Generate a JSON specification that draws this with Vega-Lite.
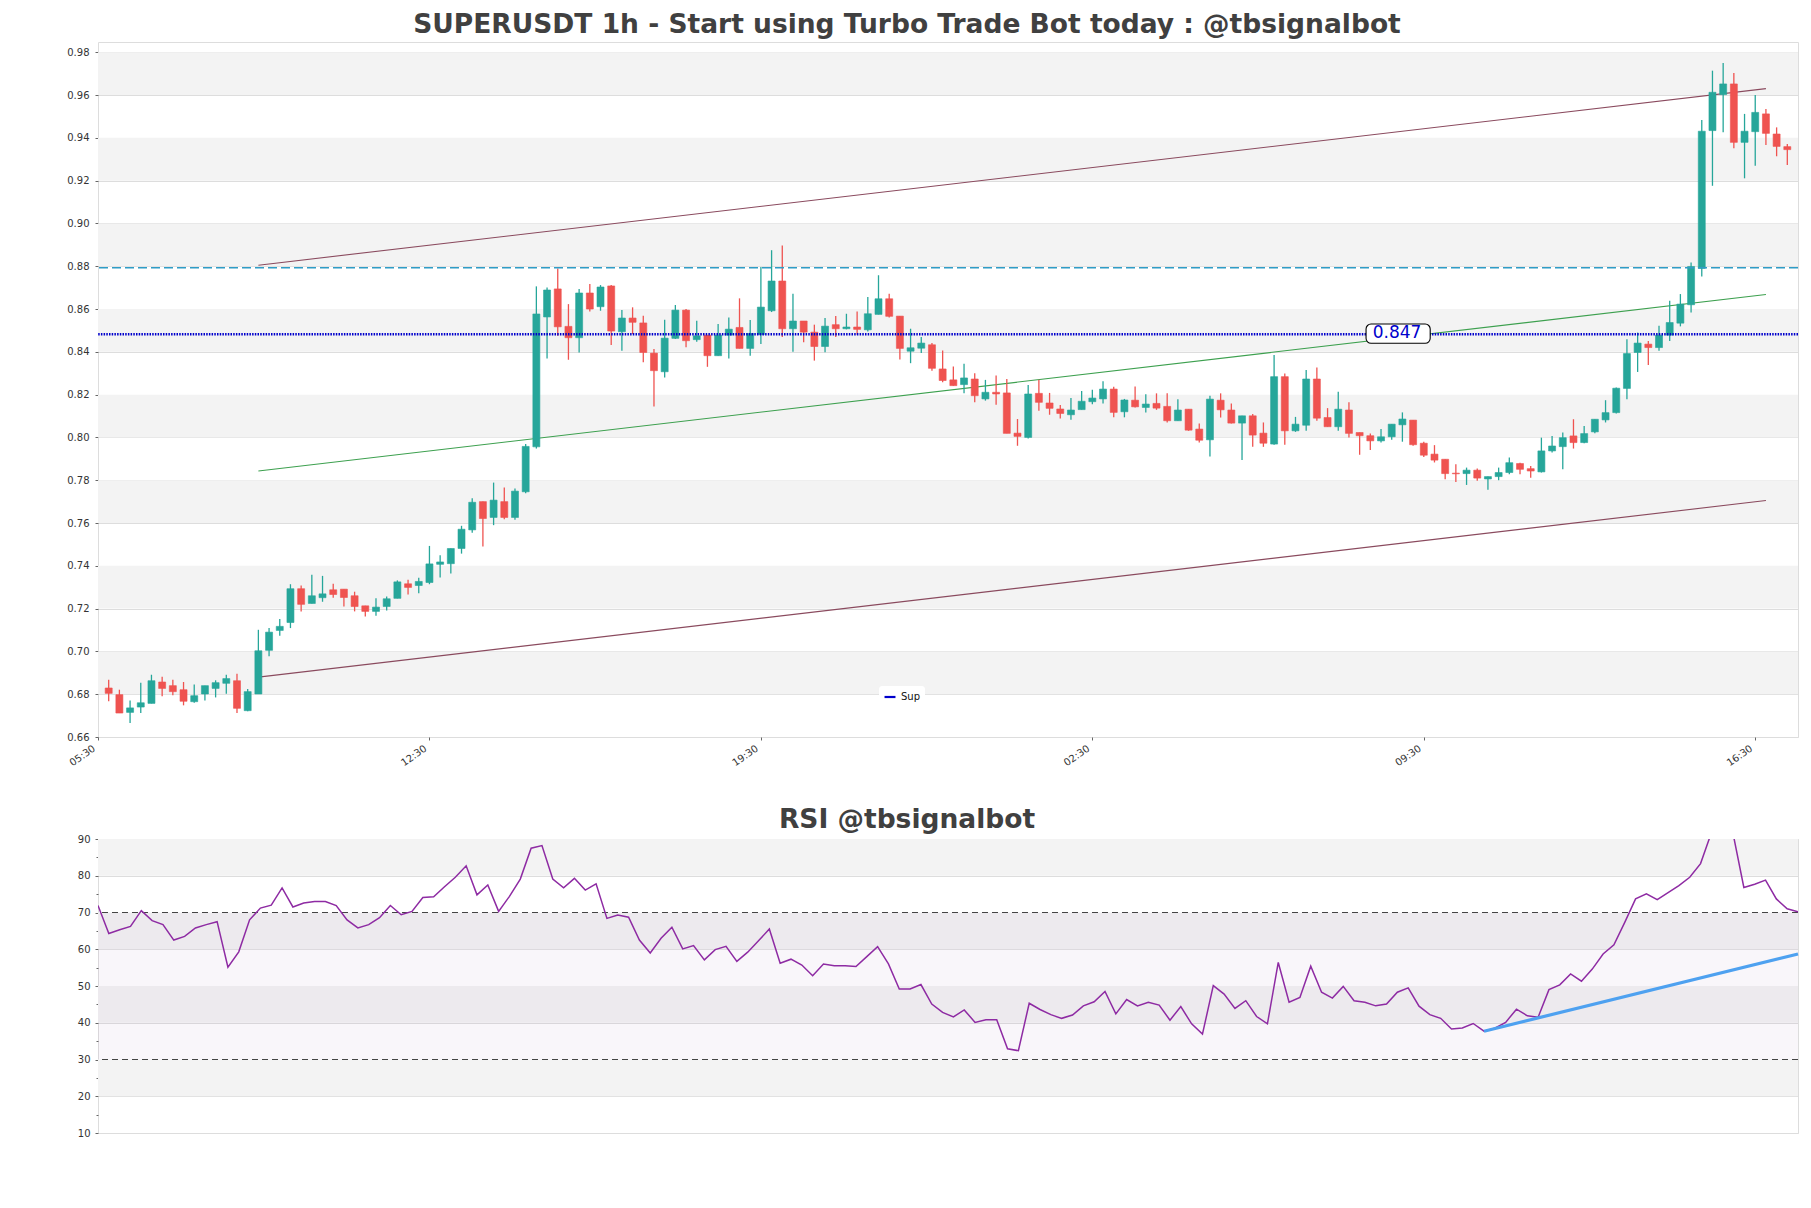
{
  "$schema": "https://vega.github.io/schema/vega-lite/v6.json",
  "padding": {"left": 57, "top": 11, "right": 14, "bottom": 10},
  "spacing": 28,
  "background": "white",
  "datasets": {
    "candles": [
      {"i":1,"o":0.6829,"h":0.6868,"l":0.6767,"c":0.6804},
      {"i":2,"o":0.6798,"h":0.6821,"l":0.6712,"c":0.6712},
      {"i":3,"o":0.6715,"h":0.6770,"l":0.6666,"c":0.6736},
      {"i":4,"o":0.6740,"h":0.6854,"l":0.6712,"c":0.6760},
      {"i":5,"o":0.6757,"h":0.6891,"l":0.6757,"c":0.6863},
      {"i":6,"o":0.6857,"h":0.6882,"l":0.6790,"c":0.6827},
      {"i":7,"o":0.6840,"h":0.6868,"l":0.6795,"c":0.6812},
      {"i":8,"o":0.6821,"h":0.6857,"l":0.6748,"c":0.6767},
      {"i":9,"o":0.6765,"h":0.6845,"l":0.6760,"c":0.6793},
      {"i":10,"o":0.6801,"h":0.6840,"l":0.6771,"c":0.6840},
      {"i":11,"o":0.6827,"h":0.6865,"l":0.6785,"c":0.6854},
      {"i":12,"o":0.6851,"h":0.6891,"l":0.6802,"c":0.6873},
      {"i":13,"o":0.6863,"h":0.6896,"l":0.6712,"c":0.6734},
      {"i":14,"o":0.6723,"h":0.6824,"l":0.6720,"c":0.6812},
      {"i":15,"o":0.6801,"h":0.7101,"l":0.6801,"c":0.7003},
      {"i":16,"o":0.7005,"h":0.7109,"l":0.6977,"c":0.7090},
      {"i":17,"o":0.7098,"h":0.7151,"l":0.7073,"c":0.7117},
      {"i":18,"o":0.7135,"h":0.7314,"l":0.7109,"c":0.7293},
      {"i":19,"o":0.7293,"h":0.7308,"l":0.7187,"c":0.7220},
      {"i":20,"o":0.7224,"h":0.7358,"l":0.7224,"c":0.7260},
      {"i":21,"o":0.7251,"h":0.7353,"l":0.7232,"c":0.7269},
      {"i":22,"o":0.7288,"h":0.7316,"l":0.7251,"c":0.7266},
      {"i":23,"o":0.7291,"h":0.7291,"l":0.7210,"c":0.7252},
      {"i":24,"o":0.7260,"h":0.7279,"l":0.7187,"c":0.7210},
      {"i":25,"o":0.7213,"h":0.7213,"l":0.7163,"c":0.7187},
      {"i":26,"o":0.7187,"h":0.7249,"l":0.7167,"c":0.7207},
      {"i":27,"o":0.7210,"h":0.7257,"l":0.7191,"c":0.7246},
      {"i":28,"o":0.7248,"h":0.7332,"l":0.7248,"c":0.7325},
      {"i":29,"o":0.7316,"h":0.7335,"l":0.7266,"c":0.7299},
      {"i":30,"o":0.7308,"h":0.7344,"l":0.7272,"c":0.7327},
      {"i":31,"o":0.7322,"h":0.7493,"l":0.7314,"c":0.7409},
      {"i":32,"o":0.7407,"h":0.7449,"l":0.7345,"c":0.7418},
      {"i":33,"o":0.7410,"h":0.7481,"l":0.7364,"c":0.7481},
      {"i":34,"o":0.7481,"h":0.7587,"l":0.7457,"c":0.7571},
      {"i":35,"o":0.7568,"h":0.7716,"l":0.7555,"c":0.7697},
      {"i":36,"o":0.7700,"h":0.7700,"l":0.7490,"c":0.7621},
      {"i":37,"o":0.7626,"h":0.7789,"l":0.7590,"c":0.7707},
      {"i":38,"o":0.7700,"h":0.7766,"l":0.7618,"c":0.7626},
      {"i":39,"o":0.7626,"h":0.7761,"l":0.7615,"c":0.7749},
      {"i":40,"o":0.7746,"h":0.7969,"l":0.7739,"c":0.7958},
      {"i":41,"o":0.7956,"h":0.8706,"l":0.7948,"c":0.8577},
      {"i":42,"o":0.8563,"h":0.8701,"l":0.8369,"c":0.8689},
      {"i":43,"o":0.8694,"h":0.8790,"l":0.8475,"c":0.8517},
      {"i":44,"o":0.8519,"h":0.8623,"l":0.8363,"c":0.8466},
      {"i":45,"o":0.8466,"h":0.8694,"l":0.8397,"c":0.8675},
      {"i":46,"o":0.8675,"h":0.8717,"l":0.8588,"c":0.8600},
      {"i":47,"o":0.8611,"h":0.8712,"l":0.8592,"c":0.8703},
      {"i":48,"o":0.8708,"h":0.8712,"l":0.8432,"c":0.8497},
      {"i":49,"o":0.8494,"h":0.8595,"l":0.8405,"c":0.8558},
      {"i":50,"o":0.8558,"h":0.8608,"l":0.8483,"c":0.8538},
      {"i":51,"o":0.8535,"h":0.8569,"l":0.8351,"c":0.8397},
      {"i":52,"o":0.8394,"h":0.8413,"l":0.8145,"c":0.8312},
      {"i":53,"o":0.8307,"h":0.8550,"l":0.8280,"c":0.8464},
      {"i":54,"o":0.8463,"h":0.8619,"l":0.8460,"c":0.8595},
      {"i":55,"o":0.8595,"h":0.8600,"l":0.8421,"c":0.8452},
      {"i":56,"o":0.8457,"h":0.8545,"l":0.8447,"c":0.8475},
      {"i":57,"o":0.8478,"h":0.8478,"l":0.8330,"c":0.8382},
      {"i":58,"o":0.8382,"h":0.8530,"l":0.8382,"c":0.8478},
      {"i":59,"o":0.8478,"h":0.8561,"l":0.8369,"c":0.8506},
      {"i":60,"o":0.8514,"h":0.8650,"l":0.8416,"c":0.8416},
      {"i":61,"o":0.8416,"h":0.8549,"l":0.8382,"c":0.8486},
      {"i":62,"o":0.8481,"h":0.8797,"l":0.8437,"c":0.8609},
      {"i":63,"o":0.8592,"h":0.8875,"l":0.8586,"c":0.8731},
      {"i":64,"o":0.8731,"h":0.8897,"l":0.8469,"c":0.8508},
      {"i":65,"o":0.8508,"h":0.8672,"l":0.8401,"c":0.8544},
      {"i":66,"o":0.8544,"h":0.8544,"l":0.8445,"c":0.8492},
      {"i":67,"o":0.8492,"h":0.8527,"l":0.8359,"c":0.8425},
      {"i":68,"o":0.8425,"h":0.8558,"l":0.8398,"c":0.8520},
      {"i":69,"o":0.8527,"h":0.8567,"l":0.8469,"c":0.8508},
      {"i":70,"o":0.8508,"h":0.8578,"l":0.8505,"c":0.8516},
      {"i":71,"o":0.8516,"h":0.8589,"l":0.8480,"c":0.8505},
      {"i":72,"o":0.8503,"h":0.8656,"l":0.8495,"c":0.8578},
      {"i":73,"o":0.8575,"h":0.8758,"l":0.8575,"c":0.8648},
      {"i":74,"o":0.8648,"h":0.8672,"l":0.8561,"c":0.8566},
      {"i":75,"o":0.8567,"h":0.8567,"l":0.8364,"c":0.8416},
      {"i":76,"o":0.8403,"h":0.8508,"l":0.8347,"c":0.8419},
      {"i":77,"o":0.8417,"h":0.8469,"l":0.8394,"c":0.8441},
      {"i":78,"o":0.8433,"h":0.8441,"l":0.8312,"c":0.8323},
      {"i":79,"o":0.8320,"h":0.8406,"l":0.8258,"c":0.8266},
      {"i":80,"o":0.8269,"h":0.8331,"l":0.8242,"c":0.8242},
      {"i":81,"o":0.8247,"h":0.8344,"l":0.8206,"c":0.8278},
      {"i":82,"o":0.8273,"h":0.8300,"l":0.8164,"c":0.8195},
      {"i":83,"o":0.8180,"h":0.8269,"l":0.8172,"c":0.8211},
      {"i":84,"o":0.8211,"h":0.8289,"l":0.8153,"c":0.8203},
      {"i":85,"o":0.8208,"h":0.8273,"l":0.8019,"c":0.8019},
      {"i":86,"o":0.8020,"h":0.8086,"l":0.7961,"c":0.8005},
      {"i":87,"o":0.8000,"h":0.8245,"l":0.7995,"c":0.8203},
      {"i":88,"o":0.8206,"h":0.8270,"l":0.8125,"c":0.8164},
      {"i":89,"o":0.8161,"h":0.8208,"l":0.8106,"c":0.8136},
      {"i":90,"o":0.8133,"h":0.8151,"l":0.8089,"c":0.8112},
      {"i":91,"o":0.8106,"h":0.8184,"l":0.8083,"c":0.8128},
      {"i":92,"o":0.8130,"h":0.8217,"l":0.8130,"c":0.8169},
      {"i":93,"o":0.8167,"h":0.8223,"l":0.8155,"c":0.8184},
      {"i":94,"o":0.8180,"h":0.8262,"l":0.8159,"c":0.8226},
      {"i":95,"o":0.8226,"h":0.8237,"l":0.8094,"c":0.8117},
      {"i":96,"o":0.8120,"h":0.8180,"l":0.8094,"c":0.8175},
      {"i":97,"o":0.8174,"h":0.8238,"l":0.8140,"c":0.8143},
      {"i":98,"o":0.8140,"h":0.8202,"l":0.8117,"c":0.8156},
      {"i":99,"o":0.8159,"h":0.8206,"l":0.8129,"c":0.8137},
      {"i":100,"o":0.8145,"h":0.8206,"l":0.8070,"c":0.8078},
      {"i":101,"o":0.8078,"h":0.8179,"l":0.8078,"c":0.8128},
      {"i":102,"o":0.8132,"h":0.8132,"l":0.8031,"c":0.8034},
      {"i":103,"o":0.8039,"h":0.8065,"l":0.7976,"c":0.7987},
      {"i":104,"o":0.7989,"h":0.8195,"l":0.7911,"c":0.8179},
      {"i":105,"o":0.8174,"h":0.8206,"l":0.8093,"c":0.8129},
      {"i":106,"o":0.8128,"h":0.8159,"l":0.8065,"c":0.8067},
      {"i":107,"o":0.8067,"h":0.8101,"l":0.7895,"c":0.8101},
      {"i":108,"o":0.8101,"h":0.8109,"l":0.7956,"c":0.8011},
      {"i":109,"o":0.8020,"h":0.8070,"l":0.7956,"c":0.7973},
      {"i":110,"o":0.7969,"h":0.8385,"l":0.7966,"c":0.8284},
      {"i":111,"o":0.8284,"h":0.8299,"l":0.7966,"c":0.8031},
      {"i":112,"o":0.8031,"h":0.8096,"l":0.8026,"c":0.8062},
      {"i":113,"o":0.8057,"h":0.8315,"l":0.8031,"c":0.8273},
      {"i":114,"o":0.8273,"h":0.8327,"l":0.8078,"c":0.8090},
      {"i":115,"o":0.8093,"h":0.8137,"l":0.8050,"c":0.8050},
      {"i":116,"o":0.8050,"h":0.8213,"l":0.8031,"c":0.8132},
      {"i":117,"o":0.8128,"h":0.8164,"l":0.8000,"c":0.8019},
      {"i":118,"o":0.8023,"h":0.8023,"l":0.7919,"c":0.8008},
      {"i":119,"o":0.8008,"h":0.8018,"l":0.7941,"c":0.7984},
      {"i":120,"o":0.7984,"h":0.8039,"l":0.7976,"c":0.8003},
      {"i":121,"o":0.8003,"h":0.8062,"l":0.7989,"c":0.8062},
      {"i":122,"o":0.8059,"h":0.8117,"l":0.7980,"c":0.8086},
      {"i":123,"o":0.8081,"h":0.8081,"l":0.7961,"c":0.7966},
      {"i":124,"o":0.7973,"h":0.7980,"l":0.7909,"c":0.7917},
      {"i":125,"o":0.7922,"h":0.7964,"l":0.7883,"c":0.7894},
      {"i":126,"o":0.7898,"h":0.7898,"l":0.7805,"c":0.7831},
      {"i":127,"o":0.7833,"h":0.7875,"l":0.7792,"c":0.7830},
      {"i":128,"o":0.7831,"h":0.7859,"l":0.7778,"c":0.7847},
      {"i":129,"o":0.7847,"h":0.7855,"l":0.7797,"c":0.7810},
      {"i":130,"o":0.7806,"h":0.7817,"l":0.7755,"c":0.7817},
      {"i":131,"o":0.7817,"h":0.7859,"l":0.7800,"c":0.7836},
      {"i":132,"o":0.7836,"h":0.7906,"l":0.7828,"c":0.7882},
      {"i":133,"o":0.7878,"h":0.7882,"l":0.7828,"c":0.7851},
      {"i":134,"o":0.7854,"h":0.7867,"l":0.7812,"c":0.7843},
      {"i":135,"o":0.7839,"h":0.7999,"l":0.7836,"c":0.7937},
      {"i":136,"o":0.7937,"h":0.8007,"l":0.7929,"c":0.7960},
      {"i":137,"o":0.7957,"h":0.8023,"l":0.7851,"c":0.7999},
      {"i":138,"o":0.8007,"h":0.8085,"l":0.7948,"c":0.7976},
      {"i":139,"o":0.7976,"h":0.8054,"l":0.7973,"c":0.8018},
      {"i":140,"o":0.8026,"h":0.8085,"l":0.8020,"c":0.8085},
      {"i":141,"o":0.8082,"h":0.8174,"l":0.8070,"c":0.8116},
      {"i":142,"o":0.8116,"h":0.8233,"l":0.8112,"c":0.8230},
      {"i":143,"o":0.8229,"h":0.8459,"l":0.8179,"c":0.8392},
      {"i":144,"o":0.8397,"h":0.8490,"l":0.8306,"c":0.8441},
      {"i":145,"o":0.8436,"h":0.8451,"l":0.8338,"c":0.8420},
      {"i":146,"o":0.8420,"h":0.8522,"l":0.8405,"c":0.8478},
      {"i":147,"o":0.8478,"h":0.8639,"l":0.8451,"c":0.8537},
      {"i":148,"o":0.8534,"h":0.8670,"l":0.8519,"c":0.8623},
      {"i":149,"o":0.8620,"h":0.8818,"l":0.8584,"c":0.8799},
      {"i":150,"o":0.8790,"h":0.9484,"l":0.8752,"c":0.9431},
      {"i":151,"o":0.9434,"h":0.9714,"l":0.9176,"c":0.9613},
      {"i":152,"o":0.9602,"h":0.9750,"l":0.9426,"c":0.9652},
      {"i":153,"o":0.9652,"h":0.9703,"l":0.9351,"c":0.9379},
      {"i":154,"o":0.9379,"h":0.9512,"l":0.9211,"c":0.9431},
      {"i":155,"o":0.9429,"h":0.9600,"l":0.9270,"c":0.9519},
      {"i":156,"o":0.9512,"h":0.9535,"l":0.9367,"c":0.9421},
      {"i":157,"o":0.9418,"h":0.9449,"l":0.9314,"c":0.9360},
      {"i":158,"o":0.9359,"h":0.9371,"l":0.9273,"c":0.9345}
    ],
    "bands": [
      {"b0":0.68,"b1":0.70},{"b0":0.72,"b1":0.74},{"b0":0.76,"b1":0.78},{"b0":0.80,"b1":0.82},
      {"b0":0.84,"b1":0.86},{"b0":0.88,"b1":0.90},{"b0":0.92,"b1":0.94},{"b0":0.96,"b1":0.98}
    ],
    "channel": [
      {"name":"upper","i":15,"p":0.8805},{"name":"upper","i":156,"p":0.9630},
      {"name":"middle","i":15,"p":0.7843},{"name":"middle","i":156,"p":0.8668},
      {"name":"lower","i":15,"p":0.6880},{"name":"lower","i":156,"p":0.7705}
    ],
    "levels": [
      {"name":"Sup","p":0.8482},
      {"name":"Res","p":0.8793}
    ],
    "tag": [
      {"x0":118.6,"x1":124.6,"y0":0.8440,"y1":0.8530,"tx":121.5,"ty":0.8486,"label":"0.847"}
    ],
    "rsibands": [
      {"b0":20,"b1":30},{"b0":40,"b1":50},{"b0":60,"b1":70},{"b0":80,"b1":90}
    ],
    "rsizone": [
      {"lo":30,"hi":70}
    ],
    "rsi": [
      {"k":0,"r":71.9},{"k":1,"r":64.3},{"k":2,"r":65.3},{"k":3,"r":66.2},{"k":4,"r":70.5},
      {"k":5,"r":67.8},{"k":6,"r":66.7},{"k":7,"r":62.5},{"k":8,"r":63.5},{"k":9,"r":65.8},
      {"k":10,"r":66.7},{"k":11,"r":67.5},{"k":12,"r":55.1},{"k":13,"r":59.3},{"k":14,"r":68.0},
      {"k":15,"r":71.2},{"k":16,"r":72.0},{"k":17,"r":76.7},{"k":18,"r":71.5},{"k":19,"r":72.6},
      {"k":20,"r":73.0},{"k":21,"r":73.0},{"k":22,"r":71.9},{"k":23,"r":68.0},{"k":24,"r":65.8},
      {"k":25,"r":66.7},{"k":26,"r":68.6},{"k":27,"r":71.9},{"k":28,"r":69.4},{"k":29,"r":70.3},
      {"k":30,"r":74.1},{"k":31,"r":74.3},{"k":32,"r":77.0},{"k":33,"r":79.6},{"k":34,"r":82.7},
      {"k":35,"r":74.8},{"k":36,"r":77.5},{"k":37,"r":70.3},{"k":38,"r":74.4},{"k":39,"r":79.1},
      {"k":40,"r":87.5},{"k":41,"r":88.2},{"k":42,"r":79.1},{"k":43,"r":76.7},{"k":44,"r":79.3},
      {"k":45,"r":76.1},{"k":46,"r":77.8},{"k":47,"r":68.4},{"k":48,"r":69.3},{"k":49,"r":68.7},
      {"k":50,"r":62.5},{"k":51,"r":59.0},{"k":52,"r":63.0},{"k":53,"r":66.0},{"k":54,"r":60.1},
      {"k":55,"r":61.0},{"k":56,"r":57.1},{"k":57,"r":59.9},{"k":58,"r":60.8},{"k":59,"r":56.7},
      {"k":60,"r":59.2},{"k":61,"r":62.3},{"k":62,"r":65.5},{"k":63,"r":56.2},{"k":64,"r":57.3},
      {"k":65,"r":55.7},{"k":66,"r":52.8},{"k":67,"r":56.0},{"k":68,"r":55.5},{"k":69,"r":55.5},
      {"k":70,"r":55.3},{"k":71,"r":58.0},{"k":72,"r":60.7},{"k":73,"r":56.0},{"k":74,"r":49.2},
      {"k":75,"r":49.2},{"k":76,"r":50.4},{"k":77,"r":45.1},{"k":78,"r":42.8},{"k":79,"r":41.6},
      {"k":80,"r":43.5},{"k":81,"r":40.1},{"k":82,"r":40.8},{"k":83,"r":40.8},{"k":84,"r":32.9},
      {"k":85,"r":32.4},{"k":86,"r":45.3},{"k":87,"r":43.6},{"k":88,"r":42.2},{"k":89,"r":41.2},
      {"k":90,"r":42.1},{"k":91,"r":44.6},{"k":92,"r":45.7},{"k":93,"r":48.5},{"k":94,"r":42.4},
      {"k":95,"r":46.3},{"k":96,"r":44.6},{"k":97,"r":45.6},{"k":98,"r":44.8},{"k":99,"r":40.7},
      {"k":100,"r":44.4},{"k":101,"r":39.7},{"k":102,"r":36.9},{"k":103,"r":50.1},{"k":104,"r":47.8},
      {"k":105,"r":43.9},{"k":106,"r":46.0},{"k":107,"r":41.7},{"k":108,"r":39.7},{"k":109,"r":56.4},
      {"k":110,"r":45.6},{"k":111,"r":46.9},{"k":112,"r":55.4},{"k":113,"r":48.3},{"k":114,"r":46.7},
      {"k":115,"r":49.9},{"k":116,"r":46.0},{"k":117,"r":45.6},{"k":118,"r":44.6},{"k":119,"r":45.1},
      {"k":120,"r":48.3},{"k":121,"r":49.5},{"k":122,"r":44.5},{"k":123,"r":42.2},{"k":124,"r":41.2},
      {"k":125,"r":38.3},{"k":126,"r":38.6},{"k":127,"r":39.8},{"k":128,"r":37.7},{"k":129,"r":38.5},
      {"k":130,"r":40.1},{"k":131,"r":43.7},{"k":132,"r":41.9},{"k":133,"r":41.5},{"k":134,"r":49.0},
      {"k":135,"r":50.3},{"k":136,"r":53.3},{"k":137,"r":51.3},{"k":138,"r":54.6},{"k":139,"r":58.7},
      {"k":140,"r":61.2},{"k":141,"r":67.3},{"k":142,"r":73.7},{"k":143,"r":75.1},{"k":144,"r":73.5},
      {"k":145,"r":75.4},{"k":146,"r":77.3},{"k":147,"r":79.6},{"k":148,"r":83.3},{"k":149,"r":91.7},
      {"k":150,"r":96.0},{"k":151,"r":91.5},{"k":152,"r":76.8},{"k":153,"r":77.7},{"k":154,"r":78.8},
      {"k":155,"r":73.7},{"k":156,"r":71.0},{"k":157,"r":70.2}
    ],
    "rsitrend": [
      {"k":128,"r":37.7},{"k":157,"r":58.7}
    ],
    "rsilevels": [
      {"lv":30},{"lv":70}
    ]
  },
  "vconcat": [
    {
      "width": 1700,
      "height": 695,
      "title": {"text": "SUPERUSDT 1h - Start using Turbo Trade Bot today : @tbsignalbot", "dx": -41},
      "layer": [
        {
          "data": {"name": "bands"},
          "mark": {"type": "rect", "color": "#f3f3f3"},
          "encoding": {
            "y": {"field": "b0", "type": "quantitative", "scale": {"domain": [0.66, 0.9848], "nice": false, "zero": false},
                  "axis": {"values": [0.66,0.68,0.70,0.72,0.74,0.76,0.78,0.80,0.82,0.84,0.86,0.88,0.90,0.92,0.94,0.96,0.98], "format": ".2f", "title": null, "grid": true, "labelOverlap": false, "minExtent": 40, "maxExtent": 40}},
            "y2": {"field": "b1"}
          }
        },
        {
          "data": {"name": "channel"},
          "mark": {"type": "line", "strokeWidth": 1.1, "clip": true},
          "encoding": {
            "x": {"field": "i", "type": "quantitative", "scale": {"domain": [0, 159], "nice": false, "zero": false, "padding": 0},
                  "axis": {"values": [0,31,62,93,124,155], "labelExpr": "timeFormat(time(datetime(2024,0,1,5,30)) + datum.value*3600000, '%H:%M')", "labelAngle": -35, "labelOffset": -7, "labelPadding": 3, "title": null, "grid": false, "labelOverlap": false, "minExtent": 40, "maxExtent": 40}},
            "y": {"field": "p", "type": "quantitative"},
            "detail": {"field": "name"},
            "stroke": {"field": "name", "type": "nominal", "legend": null,
                       "scale": {"domain": ["upper","middle","lower"], "range": ["#8a4a5e", "#3da04f", "#8a4a5e"]}}
          }
        },
        {
          "data": {"name": "candles"},
          "mark": {"type": "rule", "strokeWidth": 1.3},
          "encoding": {
            "x": {"field": "i", "type": "quantitative"},
            "y": {"field": "l", "type": "quantitative"},
            "y2": {"field": "h"},
            "color": {"condition": {"test": "datum.c >= datum.o", "value": "#26a69a"}, "value": "#ef5350"}
          }
        },
        {
          "data": {"name": "candles"},
          "mark": {"type": "bar", "width": 7, "strokeWidth": 0.6},
          "encoding": {
            "x": {"field": "i", "type": "quantitative"},
            "y": {"field": "o", "type": "quantitative"},
            "y2": {"field": "c"},
            "color": {"condition": {"test": "datum.c >= datum.o", "value": "#26a69a"}, "value": "#ef5350"},
            "stroke": {"condition": {"test": "datum.c >= datum.o", "value": "#26a69a"}, "value": "#ef5350"}
          }
        },
        {
          "data": {"name": "levels"},
          "transform": [{"filter": "datum.name == 'Res'"}],
          "mark": {"type": "rule", "strokeWidth": 1.3, "strokeDash": [9, 4], "color": "#2f9cc6"},
          "encoding": {"y": {"field": "p", "type": "quantitative"}}
        },
        {
          "data": {"name": "levels"},
          "transform": [{"filter": "datum.name == 'Sup'"}],
          "mark": {"type": "rule", "strokeWidth": 2.4, "strokeDash": [1.5, 1.2]},
          "encoding": {
            "y": {"field": "p", "type": "quantitative"},
            "color": {"field": "name", "type": "nominal",
                      "scale": {"domain": ["Sup"], "range": ["#0000cc"]},
                      "legend": {"orient": "none", "legendX": 781, "legendY": 644, "title": null, "symbolType": "stroke", "symbolStrokeWidth": 2.2, "symbolSize": 120, "labelFontSize": 10, "labelFont": "DejaVu Sans", "labelColor": "#111", "fillColor": "white", "padding": 4, "cornerRadius": 3}}
          }
        },
        {
          "data": {"name": "tag"},
          "mark": {"type": "rect", "fill": "white", "stroke": "black", "strokeWidth": 1.1, "cornerRadius": 5},
          "encoding": {
            "x": {"field": "x0", "type": "quantitative"},
            "x2": {"field": "x1"},
            "y": {"field": "y0", "type": "quantitative"},
            "y2": {"field": "y1"}
          }
        },
        {
          "data": {"name": "tag"},
          "mark": {"type": "text", "fontSize": 17, "color": "#0000cc", "font": "DejaVu Sans", "align": "center", "baseline": "middle"},
          "encoding": {
            "x": {"field": "tx", "type": "quantitative"},
            "y": {"field": "ty", "type": "quantitative"},
            "text": {"field": "label"}
          }
        }
      ]
    },
    {
      "width": 1700,
      "height": 294,
      "title": {"text": "RSI @tbsignalbot", "dx": -41, "offset": 1},
      "resolve": {"axis": {"y": "independent"}},
      "layer": [
        {
          "data": {"name": "rsibands"},
          "mark": {"type": "rect", "color": "#f3f3f3"},
          "encoding": {
            "y": {"field": "b0", "type": "quantitative", "scale": {"domain": [10, 90], "nice": false, "zero": false},
                  "axis": {"values": [10,20,30,40,50,60,70,80,90], "title": null, "grid": true, "labelOverlap": false, "labelPadding": 5, "minExtent": 40, "maxExtent": 40}},
            "y2": {"field": "b1"}
          }
        },
        {
          "data": {"name": "rsizone"},
          "mark": {"type": "rect", "color": "#9a5fb0", "opacity": 0.06},
          "encoding": {
            "y": {"field": "lo", "type": "quantitative",
                  "axis": {"values": [15,25,35,45,55,65,75,85], "orient": "left", "labels": false, "grid": false, "tickSize": 2, "title": null, "minExtent": 0, "maxExtent": 0}},
            "y2": {"field": "hi"}
          }
        },
        {
          "data": {"name": "rsilevels"},
          "mark": {"type": "rule", "strokeWidth": 1.2, "strokeDash": [6, 4], "color": "#444444"},
          "encoding": {"y": {"field": "lv", "type": "quantitative", "axis": null}}
        },
        {
          "data": {"name": "rsi"},
          "mark": {"type": "line", "strokeWidth": 1.5, "color": "#8e2ba3", "clip": true},
          "encoding": {
            "x": {"field": "k", "type": "quantitative", "scale": {"domain": [0, 157], "nice": false, "zero": false, "padding": 0}, "axis": null},
            "y": {"field": "r", "type": "quantitative", "axis": null}
          }
        },
        {
          "data": {"name": "rsitrend"},
          "mark": {"type": "line", "strokeWidth": 3.2, "color": "#4ea1f0"},
          "encoding": {
            "x": {"field": "k", "type": "quantitative"},
            "y": {"field": "r", "type": "quantitative", "axis": null}
          }
        }
      ]
    }
  ],
  "config": {
    "font": "DejaVu Sans",
    "view": {"stroke": "#dddddd"},
    "title": {"font": "DejaVu Sans", "fontSize": 26.5, "fontWeight": "bold", "color": "#404040", "offset": 4, "anchor": "middle"},
    "axis": {"labelFont": "DejaVu Sans", "labelFontSize": 10, "labelColor": "#333333", "tickColor": "#666666", "tickSize": 3, "labelPadding": 6, "domain": false, "gridColor": "#dddddd", "gridWidth": 1}
  }
}
